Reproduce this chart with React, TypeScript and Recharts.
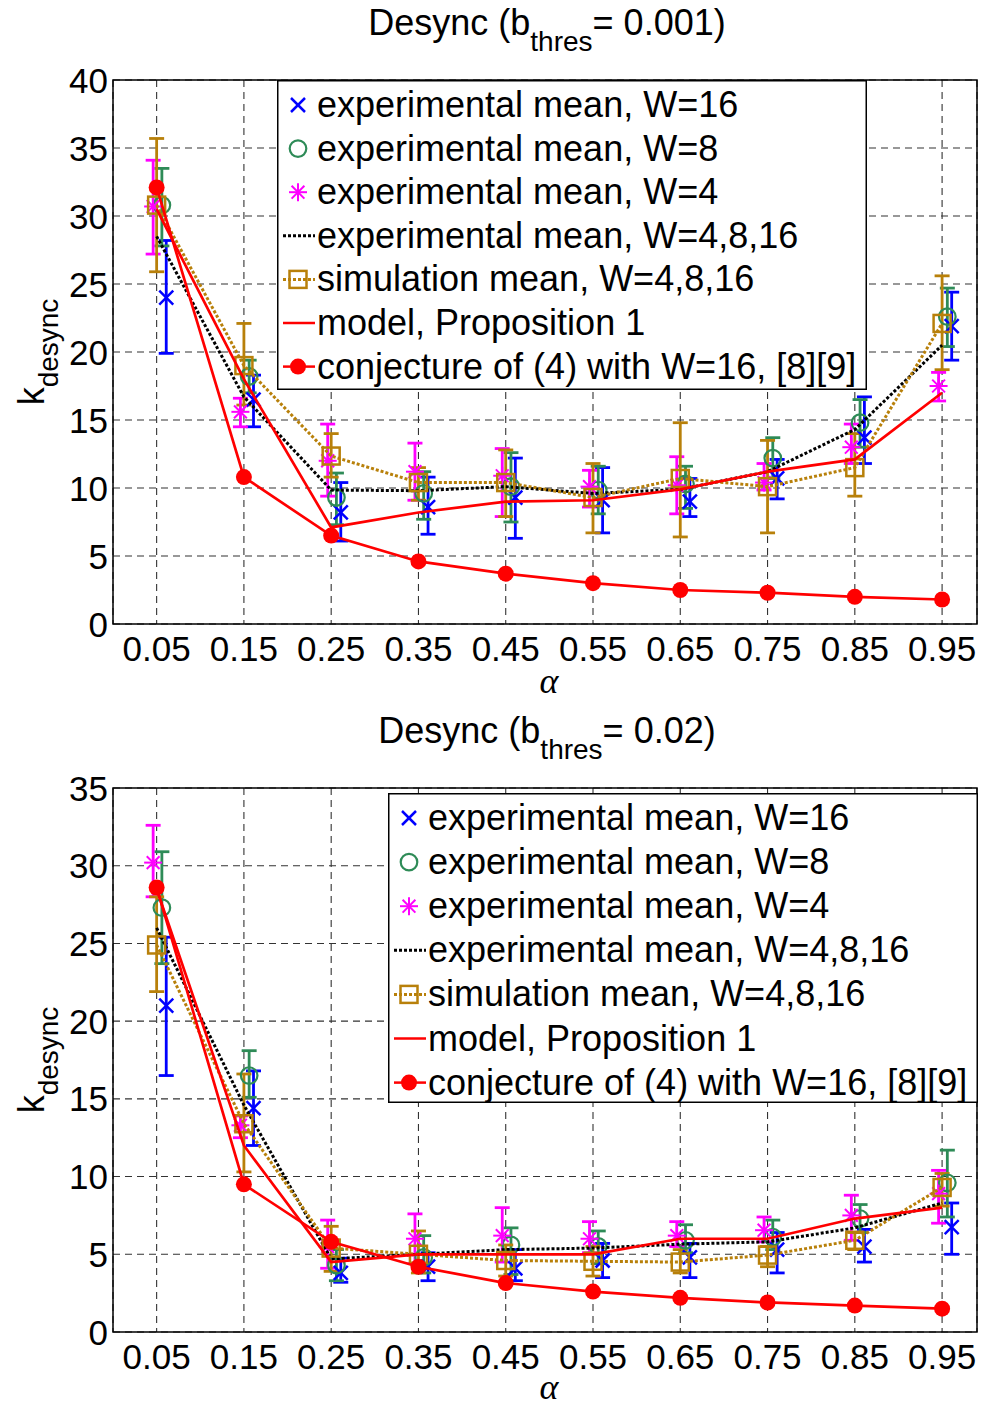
import React from 'react';
import {
  ComposedChart,
  Scatter,
  XAxis,
  YAxis,
  CartesianGrid,
  ErrorBar,
  ReferenceArea,
  Legend,
} from 'recharts';

// ---------- data ----------
const alphas = [0.05, 0.15, 0.25, 0.35, 0.45, 0.55, 0.65, 0.75, 0.85, 0.95];
const yTicksTop = [0, 5, 10, 15, 20, 25, 30, 35, 40];
const yTicksBottom = [0, 5, 10, 15, 20, 25, 30, 35];

// Top panel: b_thres = 0.001
const topW16Mean = [24.0, 16.5, 8.2, 8.6, 9.3, 9.1, 9.0, 10.7, 13.7, 21.9];
const topW16Low = [19.9, 14.5, 6.1, 6.6, 6.3, 6.7, 7.9, 9.2, 11.8, 19.4];
const topW16High = [28.2, 18.3, 10.4, 10.8, 12.2, 11.5, 10.7, 12.1, 16.7, 24.4];
const topW8Mean = [30.8, 18.2, 9.3, 9.6, 10.1, 9.85, 10.3, 12.2, 14.8, 22.6];
const topW8Low = [27.8, 17.0, 7.3, 7.7, 7.5, 8.1, 8.5, 10.7, 13.0, 20.4];
const topW8High = [33.5, 19.4, 11.1, 11.2, 12.6, 11.6, 11.6, 13.7, 16.5, 24.7];
const topW4Mean = [30.7, 15.6, 12.0, 11.2, 10.9, 10.1, 10.2, 10.4, 13.0, 17.5];
const topW4Low = [27.2, 14.5, 9.4, 9.1, 7.9, 8.6, 8.1, 9.85, 11.8, 16.4];
const topW4High = [34.1, 16.6, 14.7, 13.3, 12.9, 11.3, 12.3, 11.8, 14.7, 18.5];
const topAllMean = [28.5, 16.7, 9.85, 9.8, 10.1, 9.6, 9.9, 11.2, 14.3, 20.5];
const topSimMean = [30.8, 19.0, 12.35, 10.4, 10.4, 9.3, 10.7, 10.1, 11.5, 22.1];
const topSimLow = [25.9, 16.1, 10.8, 9.1, 7.9, 6.7, 6.4, 6.7, 9.4, 18.7];
const topSimHigh = [35.7, 22.1, 14.0, 11.5, 12.8, 11.8, 14.8, 13.5, 14.0, 25.6];
const topModel = [30.5, 18.0, 7.1, 8.2, 9.0, 9.1, 9.9, 11.2, 12.1, 17.0];
const topConj = [32.1, 10.8, 6.5, 4.6, 3.7, 3.0, 2.5, 2.3, 2.0, 1.8];

// Bottom panel: b_thres = 0.02
const botW16Mean = [21.0, 14.4, 3.8, 4.2, 4.1, 4.6, 4.8, 5.3, 5.5, 6.75];
const botW16Low = [16.5, 12.0, 3.2, 3.3, 3.3, 3.5, 3.5, 3.8, 4.5, 5.0];
const botW16High = [25.4, 16.8, 4.75, 5.1, 5.3, 5.7, 5.7, 6.4, 6.6, 8.3];
const botW8Mean = [27.3, 16.5, 4.3, 4.8, 5.6, 5.5, 5.9, 6.1, 7.3, 9.6];
const botW8Low = [23.7, 15.1, 3.3, 3.8, 3.7, 4.4, 5.1, 5.3, 6.4, 7.4];
const botW8High = [30.9, 18.1, 5.3, 6.2, 6.7, 6.5, 6.9, 7.2, 8.2, 11.7];
const botW4Mean = [30.2, 13.3, 5.5, 6.0, 6.2, 6.0, 6.2, 6.55, 7.5, 8.9];
const botW4Low = [28.0, 12.5, 4.1, 4.4, 4.5, 5.1, 5.5, 5.8, 5.9, 7.0];
const botW4High = [32.6, 13.9, 7.2, 7.6, 8.0, 7.1, 7.1, 7.4, 8.8, 10.4];
const botAllMean = [26.0, 14.6, 4.7, 5.0, 5.3, 5.4, 5.65, 5.8, 6.7, 8.3];
const botSimMean = [24.9, 13.4, 5.4, 5.0, 4.6, 4.55, 4.5, 4.95, 5.9, 9.3];
const botSimLow = [21.9, 10.3, 3.9, 3.8, 3.6, 3.6, 3.8, 4.2, 5.3, 8.1];
const botSimHigh = [28.0, 16.6, 6.8, 6.5, 5.6, 5.5, 5.3, 5.5, 6.4, 10.2];
const botModel = [28.5, 12.0, 4.5, 5.0, 5.0, 5.0, 6.0, 6.0, 7.3, 8.0];
const botConj = [28.6, 9.5, 5.8, 4.2, 3.15, 2.6, 2.2, 1.9, 1.7, 1.5];

const legendLabels = [
  'experimental mean, W=16',
  'experimental mean, W=8',
  'experimental mean, W=4',
  'experimental mean, W=4,8,16',
  'simulation mean, W=4,8,16',
  'model, Proposition 1',
  'conjecture of (4) with W=16, [8][9]',
];

// ---------- styles ----------
const FONT = '"Liberation Sans", Arial, Helvetica, sans-serif';
const BLUE = '#0000ff';
const GREEN = '#2e8b57';
const MAGENTA = '#ff00ff';
const BROWN = '#b8800a';
const RED = '#ff0000';
const X_DOMAIN_MAX = 0.99;

// offsets of series along alpha (as plotted in the original)
const DX_W16 = 0.011;
const DX_W8 = 0.006;
const DX_W4 = -0.004;

type Pt = { x: number; y: number; err?: [number, number] };

function buildPts(means: number[], dx: number, lows?: number[], highs?: number[]): Pt[] {
  return alphas.map((a, i) => {
    const p: Pt = { x: a + dx, y: means[i] };
    if (lows && highs) p.err = [means[i] - lows[i], highs[i] - means[i]];
    return p;
  });
}

// ---------- marker shapes ----------
const xMark = (cx: number, cy: number, color: string, s = 7) => (
  <g>
    <line x1={cx - s} y1={cy - s} x2={cx + s} y2={cy + s} stroke={color} strokeWidth={2.5} />
    <line x1={cx - s} y1={cy + s} x2={cx + s} y2={cy - s} stroke={color} strokeWidth={2.5} />
  </g>
);
const circleMark = (cx: number, cy: number, color: string) => (
  <circle cx={cx} cy={cy} r={8.3} fill="none" stroke={color} strokeWidth={2.2} />
);
const starMark = (cx: number, cy: number, color: string) => {
  const s = 9;
  const d = 6.4;
  return (
    <g stroke={color} strokeWidth={2}>
      <line x1={cx} y1={cy - s} x2={cx} y2={cy + s} />
      <line x1={cx - s} y1={cy} x2={cx + s} y2={cy} />
      <line x1={cx - d} y1={cy - d} x2={cx + d} y2={cy + d} />
      <line x1={cx - d} y1={cy + d} x2={cx + d} y2={cy - d} />
    </g>
  );
};
const squareMark = (cx: number, cy: number, color: string) => (
  <rect x={cx - 8.5} y={cy - 8.5} width={17} height={17} fill="none" stroke={color} strokeWidth={2.5} />
);
const dotMark = (cx: number, cy: number, color: string) => <circle cx={cx} cy={cy} r={8} fill={color} stroke="none" />;

const shapeX = (p: any) => xMark(p.cx, p.cy, BLUE);
const shapeO = (p: any) => circleMark(p.cx, p.cy, GREEN);
const shapeStar = (p: any) => starMark(p.cx, p.cy, MAGENTA);
const shapeSq = (p: any) => squareMark(p.cx, p.cy, BROWN);
const shapeDot = (p: any) => dotMark(p.cx, p.cy, RED);
const shapeNone = () => <g />;

// ---------- ticks ----------
const XTick = (props: any) => (
  <text x={props.x} y={props.y + 37} textAnchor="middle" fontSize={35} fontFamily={FONT} fill="#000">
    {String(props.payload.value)}
  </text>
);
const YTick = (props: any) => (
  <text x={props.x - 5} y={props.y + 12.5} textAnchor="end" fontSize={35} fontFamily={FONT} fill="#000">
    {String(props.payload.value)}
  </text>
);

// ---------- legend ----------
const LegendIcon = ({ i, cy }: { i: number; cy: number }) => {
  const cx = 21;
  switch (i) {
    case 0:
      return xMark(cx, cy, BLUE);
    case 1:
      return circleMark(cx, cy, GREEN);
    case 2:
      return starMark(cx, cy, MAGENTA);
    case 3:
      return <line x1={6} y1={cy} x2={38} y2={cy} stroke="#000" strokeWidth={3} strokeDasharray="3 2" />;
    case 4:
      return (
        <g>
          <line x1={6} y1={cy} x2={38} y2={cy} stroke={BROWN} strokeWidth={3} strokeDasharray="3 2" />
          {squareMark(cx, cy, BROWN)}
        </g>
      );
    case 5:
      return <line x1={6} y1={cy} x2={38} y2={cy} stroke={RED} strokeWidth={2.5} />;
    default:
      return (
        <g>
          <line x1={6} y1={cy} x2={38} y2={cy} stroke={RED} strokeWidth={2.5} />
          {dotMark(cx, cy, RED)}
        </g>
      );
  }
};

const makeLegendContent = (w: number, h: number, firstRow: number, gap: number) => () => (
  <svg width={w} height={h} style={{ display: 'block' }}>
    <rect x={0.75} y={0.75} width={w - 1.5} height={h - 1.5} fill="#fff" stroke="#000" strokeWidth={1.5} />
    {legendLabels.map((lab, i) => {
      const cy = firstRow + i * gap;
      return (
        <g key={lab}>
          <LegendIcon i={i} cy={cy} />
          <text x={40} y={cy + 12} fontSize={36} fontFamily={FONT} fill="#000">
            {lab}
          </text>
        </g>
      );
    })}
  </svg>
);

// ---------- panel ----------
type PanelProps = {
  top: number;
  height: number;
  plotTop: number;
  plotBottom: number;
  yMax: number;
  yTicks: number[];
  w16: Pt[];
  w8: Pt[];
  w4: Pt[];
  all: Pt[];
  sim: Pt[];
  model: Pt[];
  conj: Pt[];
  legendLeft: number;
  legendTop: number;
  legendGap: number;
};

const ebProps = { direction: 'y' as const, width: 7.5, strokeWidth: 2.8, isAnimationActive: false };

function Panel(p: PanelProps) {
  const margin = { top: p.plotTop, right: 7, left: 113 - 60, bottom: p.height - p.plotBottom - 40 };
  const LW = 590;
  const LH = 310;
  return (
    <div style={{ position: 'absolute', left: 0, top: p.top }}>
      <ComposedChart width={984} height={p.height} margin={margin}>
        <CartesianGrid stroke="#333" strokeWidth={1.1} strokeDasharray="7 5" />
        <XAxis
          type="number"
          dataKey="x"
          domain={[0, X_DOMAIN_MAX]}
          ticks={alphas}
          interval={0}
          allowDataOverflow
          height={40}
          tickSize={0}
          tickMargin={0}
          axisLine={false}
          tickLine={false}
          tick={<XTick />}
        />
        <YAxis
          type="number"
          dataKey="y"
          domain={[0, p.yMax]}
          ticks={p.yTicks}
          interval={0}
          allowDataOverflow
          width={60}
          tickSize={0}
          tickMargin={0}
          axisLine={false}
          tickLine={false}
          tick={<YTick />}
        />
        <ReferenceArea
          x1={0}
          x2={X_DOMAIN_MAX}
          y1={0}
          y2={p.yMax}
          fill="none"
          fillOpacity={0}
          stroke="#000"
          strokeWidth={1.5}
          ifOverflow="visible"
        />
        <Scatter name="w16" data={p.w16} shape={shapeX} isAnimationActive={false} legendType="none">
          <ErrorBar dataKey="err" stroke={BLUE} {...ebProps} />
        </Scatter>
        <Scatter name="w8" data={p.w8} shape={shapeO} isAnimationActive={false} legendType="none">
          <ErrorBar dataKey="err" stroke={GREEN} {...ebProps} />
        </Scatter>
        <Scatter name="w4" data={p.w4} shape={shapeStar} isAnimationActive={false} legendType="none">
          <ErrorBar dataKey="err" stroke={MAGENTA} {...ebProps} />
        </Scatter>
        <Scatter
          name="all"
          data={p.all}
          shape={shapeNone}
          line={{ stroke: '#000', strokeWidth: 3, strokeDasharray: '3 2' }}
          isAnimationActive={false}
          legendType="none"
        />
        <Scatter
          name="sim"
          data={p.sim}
          shape={shapeSq}
          line={{ stroke: BROWN, strokeWidth: 3, strokeDasharray: '3 2' }}
          isAnimationActive={false}
          legendType="none"
        >
          <ErrorBar dataKey="err" stroke={BROWN} {...ebProps} />
        </Scatter>
        <Scatter
          name="model"
          data={p.model}
          shape={shapeNone}
          line={{ stroke: RED, strokeWidth: 2.7 }}
          isAnimationActive={false}
          legendType="none"
        />
        <Scatter
          name="conj"
          data={p.conj}
          shape={shapeDot}
          line={{ stroke: RED, strokeWidth: 2.7 }}
          isAnimationActive={false}
          legendType="none"
        />
        <Legend
          layout="vertical"
          align="center"
          verticalAlign="middle"
          content={makeLegendContent(LW, LH, 25, p.legendGap)}
          wrapperStyle={{ position: 'absolute', left: p.legendLeft, top: p.legendTop, width: LW, height: LH }}
        />
      </ComposedChart>
    </div>
  );
}

// ---------- text overlay ----------
const Title = ({ y, value }: { y: number; value: string }) => (
  <text x={547} y={y} textAnchor="middle" fontSize={36} fontFamily={FONT} fill="#000">
    Desync (b
    <tspan fontSize={28} dy={16}>
      thres
    </tspan>
    <tspan dy={-16}>{`= ${value})`}</tspan>
  </text>
);

const YLabel = ({ cy }: { cy: number }) => (
  <text
    x={44}
    y={cy}
    transform={`rotate(-90 44 ${cy})`}
    textAnchor="middle"
    fontSize={36}
    fontFamily={FONT}
    fill="#000"
  >
    k
    <tspan fontSize={28} dy={14}>
      desync
    </tspan>
  </text>
);

const AlphaLabel = ({ y }: { y: number }) => (
  <text
    x={549}
    y={y}
    textAnchor="middle"
    fontSize={36}
    fontStyle="italic"
    fontFamily='"Liberation Serif", "DejaVu Serif", serif'
    fill="#000"
  >
    α
  </text>
);

export default function App() {
  const top = {
    w16: buildPts(topW16Mean, DX_W16, topW16Low, topW16High),
    w8: buildPts(topW8Mean, DX_W8, topW8Low, topW8High),
    w4: buildPts(topW4Mean, DX_W4, topW4Low, topW4High),
    all: buildPts(topAllMean, 0),
    sim: buildPts(topSimMean, 0, topSimLow, topSimHigh),
    model: buildPts(topModel, 0),
    conj: buildPts(topConj, 0),
  };
  const bot = {
    w16: buildPts(botW16Mean, DX_W16, botW16Low, botW16High),
    w8: buildPts(botW8Mean, DX_W8, botW8Low, botW8High),
    w4: buildPts(botW4Mean, DX_W4, botW4Low, botW4High),
    all: buildPts(botAllMean, 0),
    sim: buildPts(botSimMean, 0, botSimLow, botSimHigh),
    model: buildPts(botModel, 0),
    conj: buildPts(botConj, 0),
  };
  return (
    <div style={{ position: 'absolute', left: 0, top: 0, width: 984, height: 1407, background: '#fff', overflow: 'hidden' }}>
      <svg width={984} height={1407} style={{ position: 'absolute', left: 0, top: 0 }}>
        <Title y={35} value="0.001" />
        <Title y={743} value="0.02" />
        <YLabel cy={352} />
        <YLabel cy={1060} />
        <AlphaLabel y={693} />
        <AlphaLabel y={1399} />
      </svg>
      <Panel
        top={0}
        height={704}
        plotTop={80}
        plotBottom={624}
        yMax={40}
        yTicks={yTicksTop}
        {...top}
        legendLeft={277}
        legendTop={80}
        legendGap={43.6}
      />
      <Panel
        top={704}
        height={703}
        plotTop={84}
        plotBottom={628}
        yMax={35}
        yTicks={yTicksBottom}
        {...bot}
        legendLeft={388}
        legendTop={89}
        legendGap={44.1}
      />
    </div>
  );
}
